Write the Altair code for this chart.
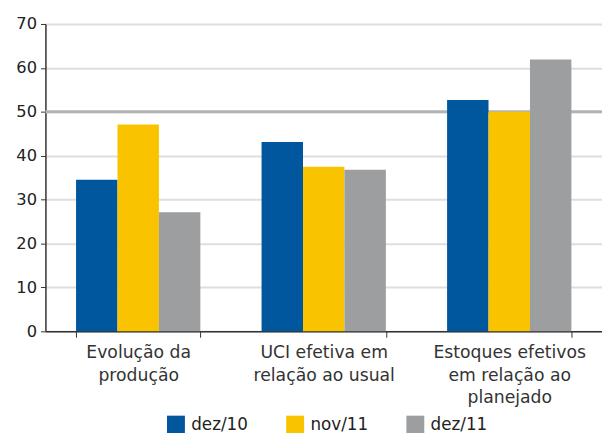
import altair as alt
import pandas as pd

categories = ["Evolução da\nprodução", "UCI efetiva em\nrelação ao usual", "Estoques efetivos\nem relação ao\nplanejado"]
series = ["dez/10", "nov/11", "dez/11"]
values = {
    "dez/10": [34.5, 43.1, 52.7],
    "nov/11": [47.1, 37.5, 50.0],
    "dez/11": [27.1, 36.8, 61.9],
}
colors = ["#00579D", "#FAC300", "#9D9EA0"]
reference_line = [50]

rows = []
for s in series:
    for c, v in zip(categories, values[s]):
        rows.append({"cat": c, "serie": s, "valor": v})
df = pd.DataFrame(rows)
df_ref = pd.DataFrame({"y": reference_line})

font = "DejaVu Sans"

xscale = alt.Scale(domain=categories, paddingInner=0.33, paddingOuter=0.165)
yscale = alt.Scale(domain=[0, 70])

bars = alt.Chart(df).mark_bar().encode(
    x=alt.X("cat:N", scale=xscale, sort=categories, title=None,
            axis=alt.Axis(labelAngle=0, labelExpr="split(datum.label, '\\n')",
                          labelFontSize=17.5, labelColor="#333", labelFont=font,
                          labelLineHeight=22.5, labelPadding=7,
                          domainColor="#333", domainWidth=1.5,
                          tickColor="#333", tickSize=6, tickBand="extent",
                          grid=False)),
    xOffset=alt.XOffset("serie:N", sort=series),
    y=alt.Y("valor:Q", scale=yscale, title=None,
            axis=alt.Axis(values=list(range(0, 71, 10)), labelFontSize=16.5,
                          labelColor="#222", labelFont=font, labelPadding=4,
                          domainColor="#333", domainWidth=1.5,
                          tickColor="#333", tickSize=5,
                          gridColor="#dedede", gridWidth=2)),
    color=alt.Color("serie:N", sort=series,
                    scale=alt.Scale(domain=series, range=colors),
                    legend=alt.Legend(title=None, orient="none", direction="horizontal",
                                      legendX=123, legendY=397,
                                      symbolType="square", symbolSize=330,
                                      symbolStrokeWidth=0, symbolOpacity=1,
                                      labelFontSize=17, labelColor="#222",
                                      labelFont=font, columnPadding=38,
                                      labelOffset=6)),
)

rule = alt.Chart(df_ref).mark_rule(color="#B2B3B5", strokeWidth=3).encode(
    y=alt.Y("y:Q", scale=yscale)
)

chart = alt.layer(rule, bars).properties(
    width=565, height=312,
    autosize=alt.AutoSizeParams(type="none"),
    padding={"left": 38, "top": 13, "right": 0, "bottom": 100},
).configure_view(stroke=None)

chart.save("out.html", embed_options={"renderer": "svg", "actions": False})
